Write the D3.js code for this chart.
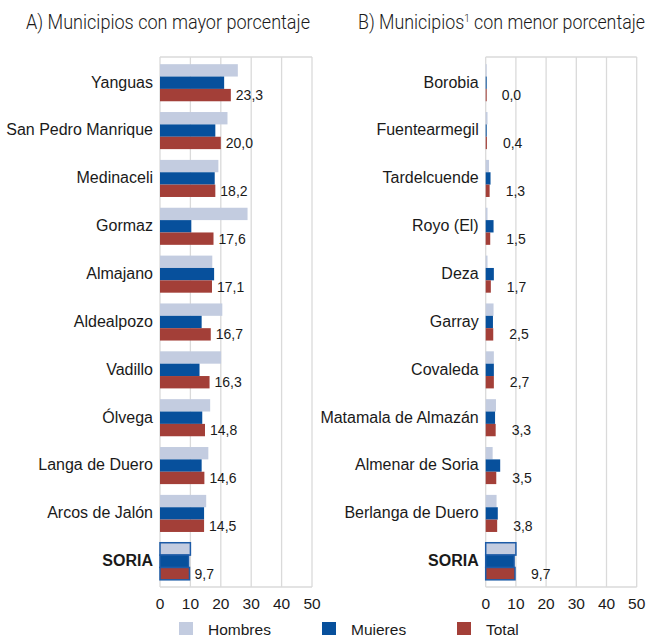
<!DOCTYPE html>
<html lang="es">
<head>
<meta charset="utf-8">
<title>Municipios</title>
<script src="https://d3js.org/d3.v7.min.js"></script>
<style>
  body { margin: 0; background: #fff; }
  text { font-family: "Liberation Sans", Arial, sans-serif; fill: #1a1a1a; }
</style>
</head>
<body>
<script>
// datos
var series = ["Hombres", "Mujeres", "Total"];
var colores = ["#c3cce0", "#07509c", "#a33f38"];
var ticks = [0, 10, 20, 30, 40, 50];

var municipiosA = ["Yanguas", "San Pedro Manrique", "Medinaceli", "Gormaz", "Almajano",
                   "Aldealpozo", "Vadillo", "Ólvega", "Langa de Duero", "Arcos de Jalón", "SORIA"];
var hombresA = [25.6, 22.2, 19.2, 28.8, 17.2, 20.5, 20.1, 16.5, 15.9, 15.2, 10.0];
var mujeresA = [21.1, 18.2, 18.0, 10.3, 17.8, 13.7, 13.0, 13.9, 13.7, 14.5, 9.4];
var totalA   = [23.3, 20.0, 18.2, 17.6, 17.1, 16.7, 16.3, 14.8, 14.6, 14.5, 9.7];

var municipiosB = ["Borobia", "Fuentearmegil", "Tardelcuende", "Royo (El)", "Deza", "Garray",
                   "Covaleda", "Matamala de Almazán", "Almenar de Soria", "Berlanga de Duero", "SORIA"];
var hombresB = [0.1, 0.6, 1.1, 0.6, 0.6, 2.6, 2.7, 3.4, 2.3, 3.6, 10.0];
var mujeresB = [0.1, 0.2, 1.6, 2.6, 2.7, 2.4, 2.7, 3.1, 4.8, 4.0, 9.4];
var totalB   = [0.0, 0.4, 1.3, 1.5, 1.7, 2.5, 2.7, 3.3, 3.5, 3.8, 9.7];

var w = 652, h = 635;
var plotTop = 57, plotBottom = 587;
var fmt = function (v) { return d3.format(".1f")(v).replace(".", ","); };

var svg = d3.select("body").append("svg")
    .attr("width", w)
    .attr("height", h);

function panel(x0, x1, cats, hom, muj, tot, labelGap) {
    var x = d3.scaleLinear().domain([0, 50]).range([x0, x1]);
    var y = d3.scaleBand().domain(cats).range([plotTop, plotBottom])
        .paddingInner(0.225).paddingOuter(0.15);
    var y1 = d3.scaleBand().domain(series).range([0, y.bandwidth()]);

    var g = svg.append("g");

    // rejilla
    g.selectAll("line.grid").data(ticks).enter().append("line")
        .attr("x1", function (d) { return x(d); })
        .attr("x2", function (d) { return x(d); })
        .attr("y1", plotTop).attr("y2", plotBottom)
        .attr("stroke", "#dadada").attr("stroke-width", 1.3);
    g.append("line").attr("x1", x0).attr("x2", x1).attr("y1", plotTop).attr("y2", plotTop)
        .attr("stroke", "#dadada").attr("stroke-width", 1.3);
    g.append("line").attr("x1", x0).attr("x2", x1).attr("y1", plotBottom).attr("y2", plotBottom)
        .attr("stroke", "#dadada").attr("stroke-width", 1.3);

    var rows = cats.map(function (c, i) {
        return { cat: c, vals: [hom[i], muj[i], tot[i]] };
    });

    var grp = g.selectAll("g.row").data(rows).enter().append("g")
        .attr("class", "row")
        .attr("transform", function (d) { return "translate(0," + y(d.cat) + ")"; });

    grp.selectAll("rect").data(function (d) {
        return d.vals.map(function (v, j) { return { v: v, s: series[j], soria: d.cat === "SORIA" }; });
    }).enter().append("rect")
        .attr("x", x(0))
        .attr("y", function (d) { return y1(d.s); })
        .attr("width", function (d) { return Math.max(x(d.v) - x(0), 1); })
        .attr("height", y1.bandwidth())
        .attr("fill", function (d, j) { return colores[j]; })
        .attr("stroke", function (d) { return d.soria ? "#1d5ba7" : "none"; })
        .attr("stroke-width", 1.5);

    // etiquetas de total
    grp.append("text")
        .attr("x", function (d) { return x(d.vals[2]) + labelGap; })
        .attr("y", y1("Total") + y1.bandwidth() / 2)
        .attr("dy", "0.36em")
        .style("font-size", "14px")
        .text(function (d) { return fmt(d.vals[2]); });

    // nombres
    grp.append("text")
        .attr("x", x0 - 7)
        .attr("y", y1("Mujeres") + y1.bandwidth() / 2)
        .attr("dy", "0.3em")
        .attr("text-anchor", "end")
        .style("font-size", "16px")
        .style("font-weight", function (d) { return d.cat === "SORIA" ? "bold" : "normal"; })
        .text(function (d) { return d.cat; });

    // eje
    g.selectAll("text.tick").data(ticks).enter().append("text")
        .attr("class", "tick")
        .attr("x", function (d) { return x(d); })
        .attr("y", 609)
        .attr("text-anchor", "middle")
        .style("font-size", "15.5px")
        .text(function (d) { return d; });
}

panel(160, 312, municipiosA, hombresA, mujeresA, totalA, 5);
panel(485.7, 636.7, municipiosB, hombresB, mujeresB, totalB, 16);

// títulos
svg.append("text")
    .attr("x", 26).attr("y", 29)
    .attr("textLength", 284).attr("lengthAdjust", "spacingAndGlyphs")
    .style("font-family", "Roboto, sans-serif").style("font-weight", 300)
    .style("font-size", "19.5px")
    .text("A) Municipios con mayor porcentaje");

var tB = svg.append("text")
    .attr("x", 358).attr("y", 29)
    .attr("textLength", 287).attr("lengthAdjust", "spacingAndGlyphs")
    .style("font-family", "Roboto, sans-serif").style("font-weight", 300)
    .style("font-size", "19.5px");
tB.append("tspan").text("B) Municipios");
tB.append("tspan").attr("dy", -7).style("font-size", "11px").text("1");
tB.append("tspan").attr("dy", 7).text(" con menor porcentaje");

// leyenda
var legX = [179, 322, 457];
var leg = svg.selectAll("g.leg").data(series).enter().append("g")
    .attr("class", "leg")
    .attr("transform", function (d, i) { return "translate(" + legX[i] + ",622)"; });
leg.append("rect").attr("width", 14).attr("height", 14)
    .attr("fill", function (d, i) { return colores[i]; });
leg.append("text").attr("x", 29).attr("y", 12.5)
    .style("font-size", "15.5px")
    .text(function (d) { return d; });
</script>
</body>
</html>
